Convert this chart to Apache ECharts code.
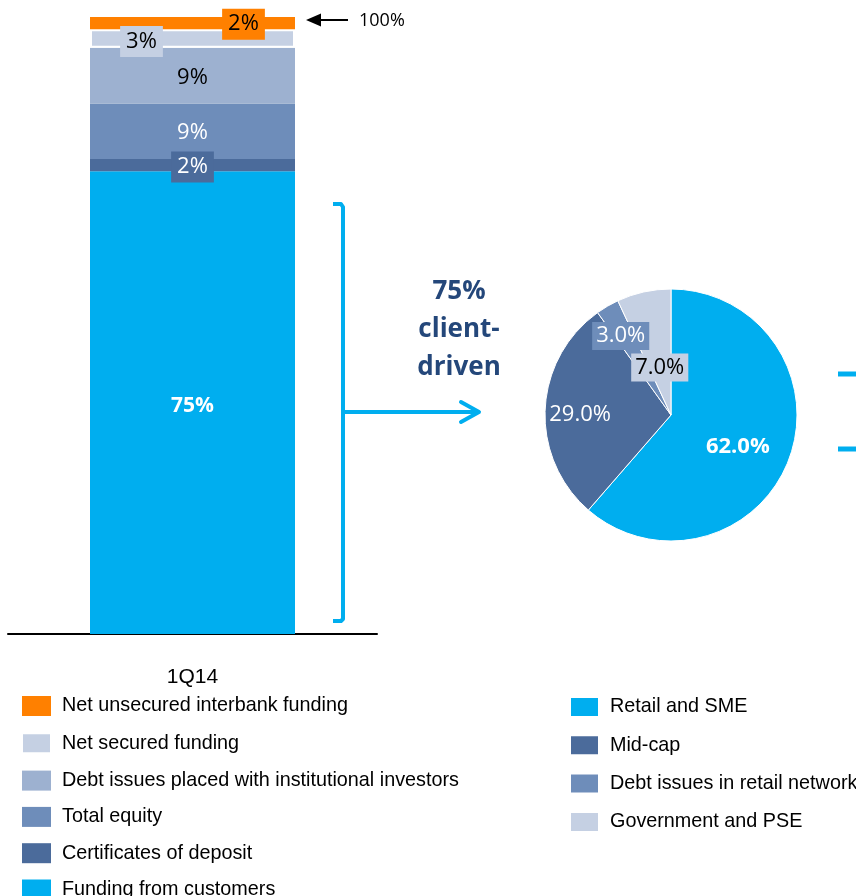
<!DOCTYPE html>
<html><head><meta charset="utf-8">
<script src="https://cdn.jsdelivr.net/npm/echarts@6/dist/echarts.min.js"></script>
<style>html,body{margin:0;padding:0;background:#fff}#c{width:856px;height:896px}</style>
</head><body><div id="c"></div>
<script>
// ---- data ----
const categories = ['1Q14'];
const barNames = ['Funding from customers','Certificates of deposit','Total equity','Debt issues placed with institutional investors','Net secured funding','Net unsecured interbank funding'];
const barValues = [75, 2, 9, 9, 3, 2];
const pieNames = ['Retail and SME','Mid-cap','Debt issues in retail network','Government and PSE'];
const pieValues = [62.0, 29.0, 3.0, 7.0];

const barColors = ['#00AEEF','#4B6B9B','#6E8DBA','#9DB1D0','#C5D0E3','#FF8000'];
const pieColors = ['#00AEEF','#4B6B9B','#6E8DBA','#C5D0E3'];
const LF = "'Liberation Sans Narrow','Arial Narrow','Liberation Sans',sans-serif";
const NF = "'Open Sans','Noto Sans',sans-serif";

const barLabel = [
  {show:true, position:'inside', color:'#fff', fontWeight:'bold', fontSize:21, fontFamily:NF, offset:[0,3]},
  {show:true, position:'inside', color:'#fff', fontSize:22, fontFamily:NF, backgroundColor:'#4B6B9B', padding:[5,6,4,6], offset:[0,2]},
  {show:true, position:'inside', color:'#fff', fontSize:22, fontFamily:NF, offset:[0,2]},
  {show:true, position:'inside', color:'#000', fontSize:22, fontFamily:NF, offset:[0,2]},
  {show:true, position:'inside', color:'#000', fontSize:22, fontFamily:NF, backgroundColor:'#C5D0E3', padding:[5,6,4,6], offset:[-51,3]},
  {show:true, position:'inside', color:'#000', fontSize:22, fontFamily:NF, backgroundColor:'#FF8000', padding:[5,6,4,6], offset:[51,1]}
];

const series = barNames.map((n,i)=>({
  name:n, type:'bar', stack:'s', barWidth:205,
  data:[barValues[i]],
  itemStyle:{color:barColors[i], borderColor: i===4 ? '#fff' : barColors[i], borderWidth: i===4 ? 2 : 0},
  label:Object.assign({formatter:'{c}%'}, barLabel[i])
}));

const pieShift = [[5,9],[-25,3],[-17,-22],[3,17]];
series.push({
  type:'pie', name:'pie', center:[671,415], radius:126, startAngle:90, clockwise:true,
  data:pieNames.map((n,i)=>({name:n, value:pieValues[i], itemStyle:{color:pieColors[i]},
    label:[
      {color:'#fff', fontWeight:'bold'},
      {color:'#fff'},
      {color:'#fff', backgroundColor:'#6E8DBA', padding:[4,4,2,4]},
      {color:'#000', backgroundColor:'#C5D0E3', padding:[4,4,2,4]}
    ][i]})),
  itemStyle:{borderColor:'#fff', borderWidth:1},
  label:{show:true, position:'inside', fontSize:22, fontFamily:NF, formatter:p=>p.value.toFixed(1)+'%'},
  labelLine:{show:false},
  labelLayout:p=>({dx:pieShift[p.dataIndex][0], dy:pieShift[p.dataIndex][1]}),
  emphasis:{disabled:true}
});

const blue = '#00AEEF';
const chart = echarts.init(document.getElementById('c'), null, {renderer:'canvas'});
chart.setOption({
  animation:false,
  grid:{left:8, right:479, top:17, bottom:262},
  xAxis:{type:'category', data:categories, axisTick:{show:false},
    axisLine:{lineStyle:{color:'#000', width:2}},
    axisLabel:{color:'#000', fontSize:21, fontFamily:LF, margin:33}},
  yAxis:{type:'value', min:0, max:100, show:false},
  legend:[
    {data:barNames.slice().reverse(), orient:'vertical', left:21, top:696, height:220, padding:0,
     itemWidth:29, itemHeight:20, itemGap:16.3, icon:'rect', selectedMode:false,
     textStyle:{color:'#000', fontSize:19.8, fontFamily:LF, padding:[0,0,0,6]}},
    {data:pieNames, orient:'vertical', left:569, top:696, height:220, padding:0,
     itemWidth:29, itemHeight:20, itemGap:16.3, icon:'rect', selectedMode:false,
     textStyle:{color:'#000', fontSize:19.8, fontFamily:LF, padding:[0,0,0,6]}}
  ],
  graphic:[
    {type:'polyline', shape:{points:[[333,204],[341,204],[343,207],[343,619],[341,621],[333,621]]},
     style:{stroke:blue, lineWidth:4, fill:null, lineJoin:'round'}},
    {type:'line', shape:{x1:343,y1:412,x2:478,y2:412}, style:{stroke:blue, lineWidth:4}},
    {type:'polyline', shape:{points:[[461,402],[479,412],[461,422]]}, style:{stroke:blue, lineWidth:4, fill:null, lineCap:'round', lineJoin:'round'}},
    {type:'line', shape:{x1:838,y1:374,x2:856,y2:374}, style:{stroke:blue, lineWidth:5}},
    {type:'line', shape:{x1:838,y1:449,x2:856,y2:449}, style:{stroke:blue, lineWidth:5}},
    {type:'line', shape:{x1:318,y1:20,x2:348,y2:20}, style:{stroke:'#000', lineWidth:2}},
    {type:'polygon', shape:{points:[[306,20],[321,13.5],[321,26.5]]}, style:{fill:'#000'}},
    {type:'text', style:{x:359, y:21, text:'100%', verticalAlign:'middle', fontSize:18, fontFamily:NF, fill:'#000'}},
    {type:'text', style:{x:459, y:292, text:'75%', align:'center', verticalAlign:'middle', fontSize:26, fontWeight:'bold', fontFamily:NF, fill:'#24477A'}},
    {type:'text', style:{x:459, y:330, text:'client-', align:'center', verticalAlign:'middle', fontSize:26, fontWeight:'bold', fontFamily:NF, fill:'#24477A'}},
    {type:'text', style:{x:459, y:368, text:'driven', align:'center', verticalAlign:'middle', fontSize:26, fontWeight:'bold', fontFamily:NF, fill:'#24477A'}}
  ],
  series:series
});
</script></body></html>
